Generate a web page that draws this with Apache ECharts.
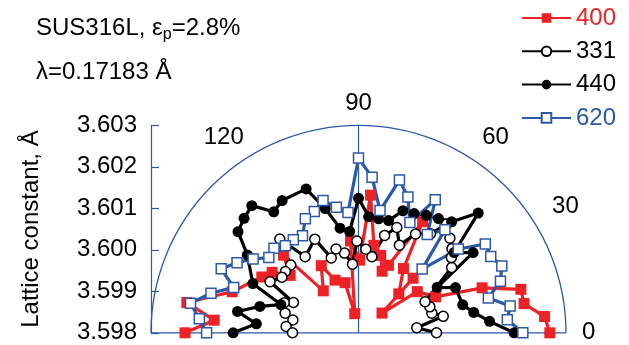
<!DOCTYPE html>
<html><head><meta charset="utf-8">
<script src="https://cdn.jsdelivr.net/npm/echarts@6/dist/echarts.min.js"></script>
<style>html,body{margin:0;padding:0;background:#fff}#c{width:629px;height:345px}</style>
</head><body><div id="c"></div>
<script>
// ---- data: angle (deg) and lattice constant (Å) ----
const seriesNames = ['400', '331', '440', '620'];

const angles400 = [0,5,10,15,20,25,35,40,45,44,55,60,66,69,74,80,85,89,95,101,105,114,119,130,134,140,145,150,162,170,175,180];
const values400 = [3.60261,3.60250,3.60205,3.60205,3.60117,3.60005,3.59973,3.59874,3.59986,3.59935,3.59989,3.60109,3.59978,3.59959,3.59994,3.60014,3.60133,3.59975,3.60022,3.59847,3.59925,3.59939,3.59985,3.59932,3.60060,3.60015,3.60054,3.60069,3.60120,3.60220,3.60149,3.60218];

const angles331 = [0,5,11,15,20,25,35,39,42,46,51,54,60,65,70,75,80,85,91,95,100,105,110,115,125,130,135,140,144,150,155,158,165,169,175,180];
const values331 = [3.59988,3.59941,3.60008,3.59983,3.59983,3.59977,3.60074,3.60088,3.60103,3.60117,3.60137,3.60095,3.60075,3.60033,3.60070,3.60043,3.59986,3.60002,3.60021,3.59966,3.59995,3.60009,3.59992,3.60049,3.60024,3.60095,3.60031,3.60030,3.60028,3.60046,3.59973,3.59993,3.59983,3.59961,3.59975,3.59959];

const angles440 = [0,5,10,15,25,30,35,40,45,50,55,60,65,70,75,80,85,90,95,100,105,110,120,125,130,135,140,145,155,160,165,170,175,180];
const values440 = [3.60175,3.60117,3.60082,3.60060,3.60058,3.60019,3.60137,3.60101,3.60208,3.60149,3.60136,3.60127,3.60117,3.60113,3.60080,3.60079,3.60081,3.60124,3.60045,3.60056,3.60110,3.60169,3.60168,3.60156,3.60200,3.60190,3.60179,3.60127,3.60081,3.59999,3.60046,3.60096,3.60047,3.60102];

const angles620 = [0,5,10,15,20,25,30,35,40,45,50,55,60,65,70,75,80,85,90,95,100,105,110,115,120,125,130,135,140,145,150,155,160,165,170,175,180];
const values620 = [3.60196,3.60160,3.60171,3.60124,3.60164,3.60181,3.60168,3.60173,3.60114,3.60017,3.60124,3.60089,3.60170,3.60093,3.60148,3.60181,3.60099,3.60176,3.60221,3.60091,3.60107,3.60130,3.60111,3.60103,3.60070,3.60074,3.60074,3.60088,3.60082,3.60110,3.60138,3.60165,3.60120,3.60168,3.60211,3.60185,3.60166];

const radiusMin = 3.598, radiusMax = 3.603, radiusStep = 0.001;
const angleLabels = ['0', '30', '60', '90', '120'];
const titleLine1 = ['SUS316L, ε', 'p', '=2.8%'];
const titleLine2 = 'λ=0.17183 Å';
const yName = 'Lattice constant, Å';

// ---- styles ----
const RED = '#ec2227', BLUE = '#2c58a8', BLACK = '#000';
const FONT = 'Liberation Sans, Arial, Helvetica, sans-serif';
const CX = 358.5, CY = 332.8, R = 207.5;
const LW = 3.2;

function pairs(a, v) { return a.map((ang, i) => [v[i], ang]); }

const chart = echarts.init(document.getElementById('c'), null, {renderer: 'canvas'});

function mkSeries(name, a, v, symbol, size, item, color) {
  return {
    type: 'line', coordinateSystem: 'polar', polarIndex: 0,
    name: name, data: pairs(a, v), symbol: symbol, symbolSize: size,
    itemStyle: item,
    lineStyle: {color: color, width: LW, type: 'solid'},
    emphasis: {disabled: true},
    animation: false
  };
}

// per-label nudges of the angle labels (line box height, padding)
const angleRich = {
  k0: {fontSize: 24, fontFamily: FONT, color: BLACK},
  k30: {fontSize: 24, fontFamily: FONT, color: BLACK, lineHeight: 30},
  k60: {fontSize: 24, fontFamily: FONT, color: BLACK, lineHeight: 4, padding: [0, 0, 0, 12]},
  k90: {fontSize: 24, fontFamily: FONT, color: BLACK, lineHeight: 12},
  k120: {fontSize: 24, fontFamily: FONT, color: BLACK, lineHeight: 4, padding: [0, 3, 0, 0]}
};

chart.setOption({
  animation: false,
  textStyle: {fontFamily: FONT},
  title: [
    {text: '{a|' + titleLine1[0] + '}{s|' + titleLine1[1] + '}{a|' + titleLine1[2] + '}', left: 36, top: 13, padding: 0,
     textStyle: {fontWeight: 'normal', color: BLACK, rich: {
       a: {fontSize: 24, fontFamily: FONT, color: BLACK, lineHeight: 30, verticalAlign: 'middle'},
       s: {fontSize: 16, fontFamily: FONT, color: BLACK, lineHeight: 16, verticalAlign: 'bottom'}}}},
    {text: titleLine2, left: 36, top: 60, padding: 0,
     textStyle: {fontWeight: 'normal', fontSize: 24, fontFamily: FONT, color: BLACK}}
  ],
  legend: {
    orient: 'vertical', left: 521, top: 6, padding: 0, itemGap: 9.3,
    itemWidth: 49, itemHeight: 12,
    textStyle: {fontSize: 24, fontFamily: FONT, lineHeight: 24},
    data: [
      {name: seriesNames[0], textStyle: {color: RED}},
      {name: seriesNames[1], textStyle: {color: BLACK}},
      {name: seriesNames[2], textStyle: {color: BLACK}},
      {name: seriesNames[3], textStyle: {color: BLUE}}
    ]
  },
  grid: {left: CX - R, top: CY - R, width: 200, height: R},
  xAxis: {type: 'value', show: false, min: 0, max: 1},
  yAxis: {
    type: 'value', min: radiusMin, max: radiusMax, interval: radiusStep,
    axisLine: {show: true, lineStyle: {color: BLUE, width: 1.2}},
    axisTick: {show: true, inside: true, length: 8, lineStyle: {color: BLUE, width: 1.2}},
    axisLabel: {fontSize: 24, fontFamily: FONT, color: BLACK, margin: 14, formatter: v => v.toFixed(3)},
    splitLine: {show: false},
    name: yName, nameLocation: 'middle', nameGap: 108,
    nameTextStyle: {fontSize: 24, fontFamily: FONT, color: BLACK}
  },
  polar: [
    {center: [CX, CY], radius: R},
    {center: [CX, CY], radius: R}
  ],
  angleAxis: [
    {polarIndex: 0, type: 'value', min: 0, max: 180, interval: 30, startAngle: 0, endAngle: 180, clockwise: false,
     axisLine: {show: true, lineStyle: {color: BLUE, width: 1.3}},
     axisTick: {show: false}, splitLine: {show: false},
     axisLabel: {fontSize: 24, fontFamily: FONT, color: BLACK, margin: 16, rich: angleRich,
       formatter: v => angleLabels.indexOf(String(v)) >= 0 ? '{k' + v + '|' + v + '}' : ''}},
    {polarIndex: 1, type: 'value', min: 0, max: 180, interval: 90, startAngle: 0, endAngle: 180, clockwise: false,
     axisLine: {show: false}, axisTick: {show: false}, axisLabel: {show: false},
     splitLine: {show: true, lineStyle: {color: BLUE, width: 1.2}}}
  ],
  radiusAxis: [
    {polarIndex: 0, type: 'value', min: radiusMin, max: radiusMax, axisLine: {show: false}, axisTick: {show: false}, axisLabel: {show: false}, splitLine: {show: false}},
    {polarIndex: 1, type: 'value', min: radiusMin, max: radiusMax, axisLine: {show: false}, axisTick: {show: false}, axisLabel: {show: false}, splitLine: {show: false}}
  ],
  series: [
    mkSeries(seriesNames[0], angles400, values400, 'rect', 11, {color: RED}, RED),
    mkSeries(seriesNames[1], angles331, values331, 'circle', 10, {color: '#fff', borderColor: BLACK, borderWidth: 1.5}, BLACK),
    mkSeries(seriesNames[2], angles440, values440, 'circle', 11, {color: BLACK}, BLACK),
    mkSeries(seriesNames[3], angles620, values620, 'rect', 10, {color: '#fff', borderColor: BLUE, borderWidth: 1.5}, BLUE)
  ]
});
</script></body></html>
